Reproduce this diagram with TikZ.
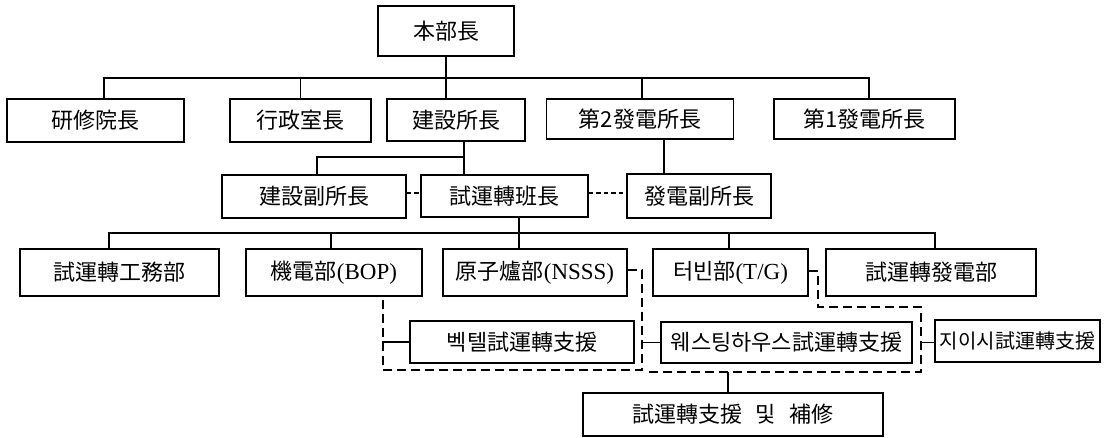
\documentclass[tikz,border=0pt]{standalone}
\usepackage{fontspec}
\setmainfont{Liberation Serif}
\newfontfamily\cj{Noto Sans CJK KR}
\newcommand{\latn}[1]{{\rmfamily\fontsize{23}{23}\selectfont #1}}
\begin{document}
\begin{tikzpicture}[x=1pt,y=-1pt,
  box/.style={draw, line width=1.5pt, inner sep=0pt, font=\cj\fontsize{22}{22}\selectfont, anchor=center},
  ln/.style={line width=1.5pt},
  dl/.style={line width=1.5pt, dash pattern=on 9pt off 5pt},
  ds/.style={line width=1.5pt, dash pattern=on 4.5pt off 3pt}]
\useasboundingbox (0,0) rectangle (1107,437);

% row 1
\node[box, minimum width=136pt, minimum height=50pt] (top) at (446,31) {本部長};
% row 2
\node[box, minimum width=177pt, minimum height=43pt] (yss) at (95.5,120.5) {研修院長};
\node[box, minimum width=141pt, minimum height=43pt] (hj) at (300.5,120.5) {行政室長};
\node[box, minimum width=138pt, minimum height=42pt] (js) at (456,120) {建設所長};
\node[box, minimum width=187pt, minimum height=40pt] (d2) at (640,119) {第2發電所長};
\node[box, minimum width=181pt, minimum height=40pt] (d1) at (864.5,119) {第1發電所長};
% row 3
\node[box, minimum width=184pt, minimum height=43pt] (jb) at (314,196.5) {建設副所長};
\node[box, minimum width=167pt, minimum height=42pt] (sb) at (504.5,196) {試運轉班長};
\node[box, minimum width=144pt, minimum height=44pt] (bb) at (699,196) {發電副所長};
% row 4
\node[box, minimum width=199pt, minimum height=47pt] (gw) at (119.5,272.5) {試運轉工務部};
\node[box, minimum width=176pt, minimum height=47pt] (bop) at (334,272.5) {機電部\latn{(BOP)}};
\node[box, minimum width=184pt, minimum height=47pt] (nsss) at (535,272.5) {原子爐部\latn{(NSSS)}};
\node[box, minimum width=155pt, minimum height=47pt] (tg) at (730.5,272.5) {터빈部\latn{(T/G)}};
\node[box, minimum width=210pt, minimum height=47pt] (fd) at (931,272.5) {試運轉發電部};
% row 5
\node[box, minimum width=224pt, minimum height=42pt] (bt) at (522,342) {벡텔試運轉支援};
\node[box, minimum width=251pt, minimum height=41pt] (wh) at (786.5,342.5) {웨스팅하우스試運轉支援};
\node[box, minimum width=165pt, minimum height=42pt, font=\cj\fontsize{20}{20}\selectfont] (ge) at (1017.5,341) {지이시試運轉支援};
% row 6
\node[box, minimum width=300pt, minimum height=43pt] (sj) at (733,414.5) {試運轉支援\hspace{0.6em}및\hspace{0.6em}補修};

% coordinates
\coordinate (bus1) at (446,78);
\coordinate (b2) at (464,157);
\coordinate (b3) at (519,233);
\coordinate (cA) at (642,370);
\coordinate (cB1) at (818,307);
\coordinate (cB2) at (921,372);
\coordinate (cB3) at (647,372);

% connectors row 1-2
\draw[ln] ([xshift=8.5pt]yss.north) |- (bus1) -| ([xshift=4.5pt]d1.north);
\draw[ln] (hj.north) -- (hj.north |- bus1);
\draw[ln] (top.south) -- (top.south |- js.north);
\draw[ln] ([xshift=2pt]d2.north) -- ([xshift=2pt]d2.north |- bus1);
% row 2-3
\draw[ln] ([xshift=8pt]js.south) -- ([xshift=8pt]js.south |- sb.north);
\draw[ln] ([xshift=3pt]jb.north) |- (b2);
\draw[ln] ([xshift=24pt]d2.south) -- ([xshift=24pt]d2.south |- bb.north);
\draw[ds] ([yshift=3.5pt]jb.east) -- ([yshift=3.5pt]jb.east -| sb.west);
\draw[ds] ([yshift=3pt]sb.east) -- ([yshift=3pt]sb.east -| bb.west);
% row 3-4
\draw[ln] ([xshift=14.5pt]sb.south) -- ([xshift=14.5pt]sb.south |- nsss.north);
\draw[ln] ([xshift=-10.5pt]gw.north) |- (b3) -| ([xshift=4pt]fd.north);
\draw[ln] ([xshift=-3pt]bop.north) -- ([xshift=-3pt]bop.north |- b3);
\draw[ln] ([xshift=-1.5pt]tg.north) -- ([xshift=-1.5pt]tg.north |- b3);
% dashed groups
\draw[dl] ([yshift=2.5pt]nsss.east) -| (cA) -| ([xshift=49pt]bop.south);
\draw[ln] ([xshift=-27pt]bt.west) -- (bt.west);
\draw[ln] (wh.west -| cA) -- (wh.west);
\draw[dl] ([yshift=1.5pt]tg.east) -| (cB1) -| (cB2) -- (cB3);
\draw[ln] (wh.east -| cB2) -- (wh.east -| ge.west);
\draw[ln] ([xshift=-5pt]sj.north) -- ([xshift=-5pt]sj.north |- cB2);
\end{tikzpicture}
\end{document}
